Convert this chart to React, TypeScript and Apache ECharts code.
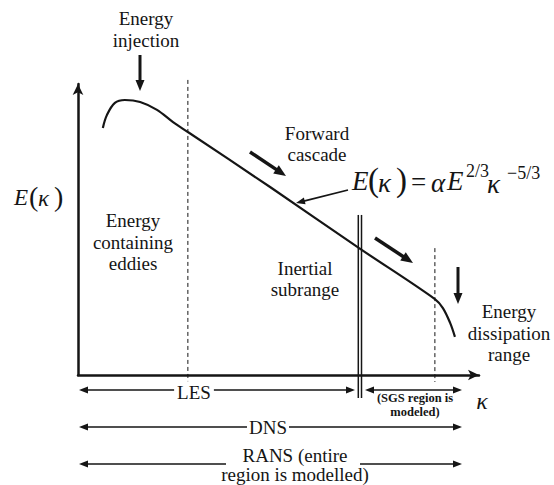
import React, { useEffect, useRef } from 'react';
import * as echarts from 'echarts';

// Spectrum curve (x: log wavenumber scale 0-100, y: log energy scale 0-100)
const curveX = [6.2, 7.2, 9.2, 11.7, 15.5, 19.7, 23.7, 27.4, 47.9, 70.1, 89.0, 91.0, 92.8, 94.0];
const curveY = [84.9, 89.3, 93.5, 94.5, 93.8, 91.1, 86.9, 83.5, 64.6, 43.6, 26.1, 23.0, 17.9, 13.1];

// Region boundaries
const lesCutX = 27.4;
const dissCutX = 89.0;
const filterX = [69.9, 70.7];

const SERIF = "'Liberation Serif', 'Times New Roman', serif";
const INK = '#151515';

function arrow(x1: number, y1: number, x2: number, y2: number, w: number, hl: number, hw: number) {
  const dx = x2 - x1, dy = y2 - y1, len = Math.hypot(dx, dy);
  const ux = dx / len, uy = dy / len;
  const bx = x2 - ux * hl, by = y2 - uy * hl;
  const px = -uy, py = ux;
  return [
    { type: 'line', shape: { x1, y1, x2: bx + ux, y2: by + uy }, style: { stroke: INK, lineWidth: w } },
    {
      type: 'polygon',
      shape: { points: [[x2, y2], [bx + px * hw / 2, by + py * hw / 2], [bx - px * hw / 2, by - py * hw / 2]] },
      style: { fill: INK },
    },
  ];
}

function dbl(x1: number, x2: number, y: number) {
  const hl = 9, hw = 7;
  return [
    { type: 'line', shape: { x1: x1 + hl - 1, y1: y, x2: x2 - hl + 1, y2: y }, style: { stroke: INK, lineWidth: 1.5 } },
    { type: 'polygon', shape: { points: [[x1, y], [x1 + hl, y - hw / 2], [x1 + hl, y + hw / 2]] }, style: { fill: INK } },
    { type: 'polygon', shape: { points: [[x2, y], [x2 - hl, y - hw / 2], [x2 - hl, y + hw / 2]] }, style: { fill: INK } },
  ];
}

function txt(x: number, y: number, text: string, size = 19, extra: any = {}) {
  return {
    type: 'text',
    x, y,
    z: 10,
    style: {
      text,
      fontFamily: SERIF,
      fontSize: size,
      fontStyle: extra.style || 'normal',
      fontWeight: extra.weight || 'normal',
      fill: INK,
      align: extra.align || 'center',
      verticalAlign: 'middle',
      lineHeight: extra.lh || 21.5,
      backgroundColor: extra.bg,
      padding: extra.pad,
    },
  };
}

export default function App() {
  const ref = useRef<HTMLDivElement>(null);
  useEffect(() => {
    if (!ref.current) return;
    const chart = echarts.init(ref.current, null, { renderer: 'svg' });
    const vline = (x: number, y0: number, y1: number, dashed: boolean, w: number) => ({
      type: 'line',
      data: [[x, y0], [x, y1]],
      showSymbol: false,
      clip: false,
      silent: true,
      lineStyle: { color: INK, width: w, type: dashed ? [4, 3] : 'solid' },
      z: 3,
    });
    const axisCommon = {
      type: 'value',
      min: 0,
      max: 100,
      axisLine: { show: true, symbol: ['none', 'arrow'], symbolSize: [8, 11], lineStyle: { color: INK, width: 2.5 } },
      axisTick: { show: false },
      axisLabel: { show: false },
      splitLine: { show: false },
    };
    const graphic: any[] = [
      txt(146, 18, 'Energy'),
      txt(146, 40, 'injection'),
      ...arrow(140, 55, 140, 91, 3, 11, 9),
      txt(317, 133, 'Forward'),
      txt(317, 154, 'cascade'),
      ...arrow(250, 152, 286, 176, 3.5, 12, 10),
      // formula
      txt(352, 181, 'E', 27, { align: 'left', style: 'italic' }),
      txt(368, 180, '(', 33, { align: 'left' }),
      txt(378, 183, 'κ', 27, { align: 'left', style: 'italic' }),
      txt(396, 180, ')', 33, { align: 'left' }),
      txt(411, 182, '=', 27, { align: 'left' }),
      txt(431, 183, 'α', 27, { align: 'left', style: 'italic' }),
      txt(447, 181, 'E', 27, { align: 'left', style: 'italic' }),
      txt(466, 171, '2/3', 18, { align: 'left' }),
      txt(487, 184, 'κ', 27, { align: 'left', style: 'italic' }),
      txt(507, 173, '−5/3', 18, { align: 'left' }),
      ...arrow(348, 190, 296, 203, 1.8, 9, 7),
      ...arrow(375, 238, 413, 263, 3.5, 12, 10),
      ...arrow(458, 267, 458, 304, 3, 11, 9),
      // y label
      txt(14, 197, 'E', 23, { align: 'left', style: 'italic' }),
      txt(29, 196, '(', 28, { align: 'left' }),
      txt(38, 198, 'κ', 23, { align: 'left', style: 'italic' }),
      txt(54, 196, ')', 28, { align: 'left' }),
      txt(133, 242, 'Energy\ncontaining\neddies'),
      txt(305, 279, 'Inertial\nsubrange'),
      txt(509, 333, 'Energy\ndissipation\nrange'),
      // bottom ranges
      ...dbl(79, 355, 390),
      txt(194, 392, 'LES', 19, { bg: '#fff', pad: [0, 3] }),
      ...dbl(365, 462, 390),
      txt(415, 405, '(SGS region is\nmodeled)', 12.5, { weight: 'bold', lh: 13.5 }),
      txt(482, 401, 'κ', 24, { style: 'italic' }),
      ...dbl(79, 462, 427),
      txt(268, 427, 'DNS', 19, { bg: '#fff', pad: [0, 2] }),
      ...arrow(226, 464, 79, 464, 1.5, 9, 7),
      ...arrow(360, 464, 462, 464, 1.5, 9, 7),
      txt(295, 465, 'RANS (entire\nregion is modelled)', 19, { lh: 19 }),
    ];
    chart.setOption({
      animation: false,
      backgroundColor: '#fff',
      grid: { left: 78, right: 75, top: 84, bottom: 110, containLabel: false },
      xAxis: axisCommon,
      yAxis: axisCommon,
      series: [
        {
          type: 'line',
          data: curveX.map((x, i) => [x, curveY[i]]),
          smooth: 0.35,
          showSymbol: false,
          clip: false,
          lineStyle: { color: INK, width: 2.2 },
          z: 4,
        },
        vline(lesCutX, 101.4, -4.5, true, 1),
        vline(dissCutX, 43.6, -2.4, true, 1),
        vline(filterX[0], 55, -7.9, false, 1.5),
        vline(filterX[1], 55, -7.9, false, 1.5),
      ],
      graphic,
    });
    return () => chart.dispose();
  }, []);
  return <div ref={ref} style={{ position: 'fixed', left: 0, top: 0, width: 554, height: 485 }} />;
}
